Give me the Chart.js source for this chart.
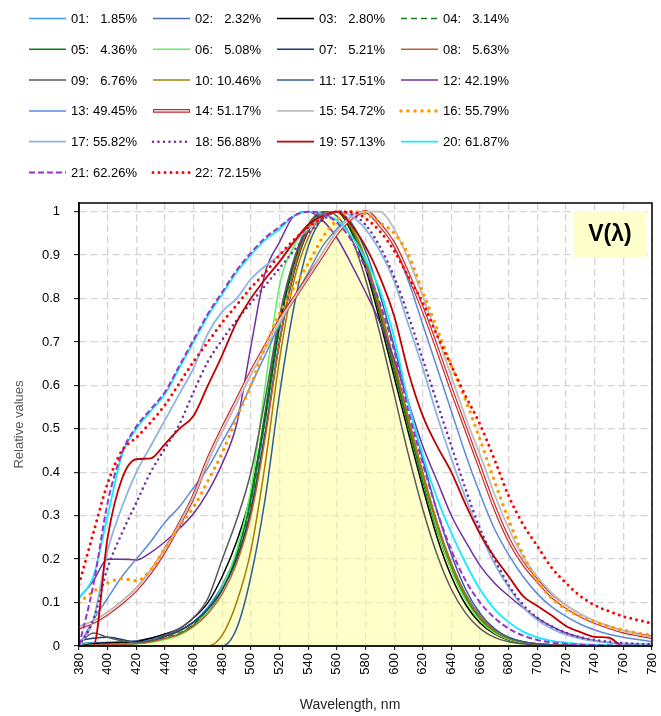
<!DOCTYPE html>
<html>
<head>
<meta charset="utf-8">
<script src="https://cdn.jsdelivr.net/npm/chart.js"></script>
<style>
  body { margin: 0; background: #fff; }
  canvas { display: block; }
</style>
</head>
<body>
<canvas id="myChart" width="661" height="716"></canvas>
<script>
// wavelength grid, nm
const wl = [380,390,400,410,420,430,440,450,460,470,480,490,500,510,520,530,540,550,560,570,
  580,590,600,610,620,630,640,650,660,670,680,690,700,710,720,730,740,750,760,770,780];
const yTicks = [0,0.1,0.2,0.3,0.4,0.5,0.6,0.7,0.8,0.9,1];

// V(lambda) photopic curve (yellow area)
const vLambda = [0.0000,0.0001,0.0004,0.0012,0.0040,0.0116,0.0230,0.0380,0.0600,0.0910,
  0.1390,0.2080,0.3230,0.5030,0.7100,0.8620,0.9540,0.9950,0.9950,0.9520,
  0.8700,0.7570,0.6310,0.5030,0.3810,0.2650,0.1750,0.1070,0.0610,0.0320,
  0.0170,0.0082,0.0041,0.0021,0.0010,0.0005,0.0002,0.0001,0.0001,0,0];

const codes = ['01','02','03','04','05','06','07','08','09','10','11',
  '12','13','14','15','16','17','18','19','20','21','22'];
const pcts = ['1.85%','2.32%','2.80%','3.14%','4.36%','5.08%','5.21%','5.63%','6.76%','10.46%','17.51%',
  '42.19%','49.45%','51.17%','54.72%','55.79%','55.82%','56.88%','57.13%','61.87%','62.26%','72.15%'];

const s01 = [0.005,0.008,0.008,0.008,0.010,0.015,0.025,0.035,0.055,0.090,
  0.140,0.215,0.330,0.520,0.730,0.880,0.960,0.995,1.000,0.965,
  0.890,0.780,0.650,0.520,0.395,0.280,0.190,0.120,0.070,0.038,
  0.020,0.010,0.005,0.003,0.002,0.001,0.001,0,0,0,0];
const s02 = [0,0.005,0.008,0.010,0.012,0.018,0.025,0.035,0.055,0.085,
  0.135,0.200,0.315,0.490,0.700,0.860,0.955,0.995,1.000,0.960,
  0.880,0.765,0.640,0.510,0.385,0.270,0.180,0.110,0.064,0.034,
  0.018,0.009,0.005,0.003,0.002,0.001,0,0,0,0,0];
const s03 = [0,0.005,0.007,0.008,0.010,0.018,0.028,0.040,0.065,0.100,
  0.160,0.240,0.350,0.530,0.740,0.880,0.960,0.995,1.000,0.955,
  0.870,0.750,0.620,0.490,0.365,0.250,0.160,0.095,0.053,0.028,
  0.014,0.007,0.003,0.002,0.001,0,0,0,0,0,0];
const s04 = [0,0.003,0.005,0.006,0.008,0.012,0.020,0.030,0.050,0.085,
  0.135,0.210,0.330,0.520,0.730,0.875,0.960,0.995,1.000,0.965,
  0.885,0.770,0.640,0.510,0.385,0.270,0.180,0.110,0.063,0.033,
  0.017,0.008,0.004,0.002,0.001,0,0,0,0,0,0];
const s05 = [0,0.002,0.004,0.005,0.006,0.010,0.017,0.028,0.048,0.080,
  0.130,0.210,0.340,0.540,0.750,0.885,0.965,0.998,1.000,0.960,
  0.880,0.765,0.635,0.505,0.380,0.265,0.175,0.107,0.060,0.031,
  0.016,0.008,0.004,0.002,0.001,0,0,0,0,0,0];
const s06 = [0,0.002,0.003,0.004,0.005,0.008,0.015,0.025,0.045,0.080,
  0.135,0.220,0.360,0.600,0.830,0.920,0.965,0.995,1.000,0.970,
  0.895,0.785,0.655,0.520,0.390,0.270,0.175,0.105,0.058,0.030,
  0.015,0.007,0.003,0.002,0.001,0,0,0,0,0,0];
const s07 = [0.012,0.018,0.020,0.015,0.008,0.012,0.022,0.035,0.055,0.085,
  0.130,0.200,0.310,0.490,0.700,0.860,0.955,0.995,1.000,0.965,
  0.885,0.775,0.650,0.520,0.395,0.280,0.185,0.115,0.066,0.035,
  0.018,0.009,0.005,0.002,0.001,0,0,0,0,0,0];
const s08 = [0,0.002,0.003,0.004,0.006,0.010,0.017,0.027,0.045,0.075,
  0.120,0.190,0.300,0.480,0.700,0.865,0.960,0.995,1.000,0.965,
  0.890,0.780,0.655,0.525,0.400,0.285,0.190,0.118,0.068,0.036,
  0.019,0.010,0.005,0.003,0.002,0.001,0,0,0,0,0];
const s09 = [0.005,0.030,0.020,0.012,0.008,0.012,0.025,0.040,0.065,0.110,
  0.200,0.290,0.400,0.570,0.760,0.890,0.970,1.000,0.990,0.940,
  0.845,0.720,0.580,0.440,0.315,0.210,0.130,0.075,0.040,0.020,
  0.010,0.005,0.002,0.001,0,0,0,0,0,0,0];
const s10 = [0,0,0,0,0,0,0,0,0,0,
  0.025,0.100,0.220,0.420,0.660,0.840,0.940,0.990,1.000,0.965,
  0.885,0.775,0.650,0.520,0.395,0.280,0.185,0.115,0.066,0.035,
  0.018,0.009,0.004,0.002,0.001,0,0,0,0,0,0];
const s11 = [0,0,0,0,0,0,0,0,0,0,
  0,0.040,0.160,0.340,0.580,0.780,0.920,0.985,1.000,0.975,
  0.910,0.810,0.690,0.560,0.430,0.310,0.210,0.130,0.075,0.040,
  0.020,0.010,0.005,0.002,0.001,0,0,0,0,0,0];
const s12 = [0.110,0.150,0.200,0.200,0.198,0.215,0.240,0.270,0.305,0.355,
  0.420,0.510,0.690,0.860,0.930,0.990,1.000,0.980,0.940,0.880,
  0.815,0.745,0.660,0.560,0.460,0.380,0.300,0.240,0.185,0.145,
  0.115,0.088,0.064,0.045,0.030,0.020,0.012,0.008,0.005,0.003,0.002];
const s13 = [0,0.060,0.110,0.160,0.200,0.240,0.285,0.320,0.365,0.410,
  0.470,0.530,0.600,0.670,0.740,0.800,0.860,0.920,0.960,0.990,
  1.000,0.975,0.920,0.840,0.740,0.640,0.540,0.440,0.350,0.270,
  0.210,0.160,0.120,0.090,0.068,0.050,0.037,0.027,0.020,0.015,0.010];
const s14 = [0.042,0.055,0.075,0.100,0.130,0.170,0.220,0.280,0.345,0.430,
  0.500,0.565,0.630,0.690,0.750,0.800,0.850,0.900,0.950,0.985,
  1.000,0.970,0.925,0.855,0.775,0.685,0.590,0.500,0.410,0.320,
  0.245,0.190,0.150,0.115,0.090,0.070,0.055,0.043,0.033,0.026,0.020];
const s15 = [0.045,0.058,0.078,0.103,0.133,0.173,0.223,0.280,0.345,0.425,
  0.495,0.560,0.625,0.685,0.745,0.800,0.850,0.905,0.955,0.990,
  1.000,1.000,0.960,0.890,0.805,0.715,0.620,0.525,0.440,0.350,
  0.270,0.205,0.160,0.122,0.095,0.074,0.058,0.045,0.035,0.027,0.021];
const s16 = [0.100,0.125,0.145,0.155,0.150,0.175,0.225,0.275,0.320,0.380,
  0.445,0.525,0.600,0.690,0.765,0.825,0.880,0.940,0.980,1.000,
  0.995,0.975,0.950,0.900,0.815,0.730,0.645,0.565,0.475,0.380,
  0.290,0.210,0.150,0.110,0.085,0.068,0.056,0.045,0.037,0.030,0.025];
const s17 = [0,0.060,0.220,0.320,0.400,0.460,0.520,0.580,0.640,0.720,
  0.770,0.800,0.845,0.875,0.900,0.930,0.960,0.990,1.000,0.990,
  0.960,0.910,0.840,0.740,0.640,0.530,0.430,0.340,0.260,0.190,
  0.135,0.090,0.060,0.040,0.026,0.017,0.011,0.008,0.006,0.005,0.004];
const s18 = [0,0.060,0.180,0.260,0.330,0.400,0.455,0.510,0.585,0.655,
  0.705,0.750,0.790,0.830,0.870,0.910,0.950,0.980,1.000,0.995,
  0.970,0.920,0.850,0.760,0.660,0.560,0.460,0.360,0.270,0.200,
  0.140,0.095,0.065,0.045,0.030,0.020,0.014,0.010,0.007,0.005,0.004];
const s19 = [0,0,0.250,0.385,0.430,0.432,0.465,0.500,0.530,0.600,
  0.670,0.745,0.800,0.845,0.885,0.930,0.970,0.990,1.000,0.970,
  0.920,0.850,0.760,0.630,0.530,0.460,0.400,0.325,0.258,0.205,
  0.160,0.115,0.092,0.070,0.046,0.032,0.021,0.019,0,0,0];
const s20 = [0.110,0.160,0.300,0.440,0.500,0.540,0.580,0.640,0.700,0.760,
  0.810,0.860,0.900,0.935,0.960,0.990,1.000,0.995,0.980,0.945,
  0.890,0.820,0.710,0.560,0.440,0.340,0.260,0.190,0.130,0.085,
  0.055,0.033,0.020,0.012,0.008,0.005,0.003,0.002,0.001,0.001,0];
const s21 = [0,0.140,0.330,0.445,0.505,0.545,0.585,0.645,0.705,0.765,
  0.815,0.865,0.905,0.940,0.965,0.990,1.000,0.995,0.975,0.935,
  0.870,0.790,0.680,0.540,0.420,0.310,0.220,0.150,0.100,0.065,
  0.040,0.024,0.014,0.008,0.005,0.003,0.002,0.001,0.001,0,0];
const s22 = [0.142,0.260,0.375,0.450,0.480,0.515,0.555,0.605,0.655,0.700,
  0.745,0.785,0.825,0.860,0.900,0.935,0.965,0.985,1.000,1.000,
  0.985,0.955,0.910,0.850,0.790,0.715,0.645,0.575,0.510,0.430,
  0.345,0.280,0.230,0.180,0.145,0.115,0.094,0.080,0.068,0.060,0.052];

const series = [s01,s02,s03,s04,s05,s06,s07,s08,s09,s10,s11,
  s12,s13,s14,s15,s16,s17,s18,s19,s20,s21,s22];

// line looks
const dot = (c, w, gap) => ({color: c, width: w, dash: [0, gap], cap: 'round'});
const styles = [
  {color: '#3C9EFF', width: 1.5},
  {color: '#4A6DB5', width: 1.5},
  {color: '#000000', width: 1.5},
  {color: '#1E7B1E', width: 1.5, dash: [6, 4]},
  {color: '#0A800A', width: 1.5},
  {color: '#5CF25C', width: 1.5},
  {color: '#1F3A6E', width: 1.5},
  {color: '#C0602B', width: 1.5},
  {color: '#595959', width: 1.5},
  {color: '#A67C00', width: 1.5},
  {color: '#2F5F98', width: 1.5},
  {color: '#7030A0', width: 1.5},
  {color: '#5A8AD8', width: 1.5},
  {color: '#D02020', width: 3.6, double: true},
  {color: '#BFBFBF', width: 1.8},
  dot('#FF9900', 3.5, 7),
  {color: '#8DB4E2', width: 1.8},
  dot('#7030A0', 2.6, 5.5),
  {color: '#C00000', width: 1.8},
  {color: '#11EEFF', width: 1.8},
  {color: '#9933CC', width: 2, dash: [6, 3]},
  dot('#FF0000', 3, 6)
];

const FONT = '"Liberation Sans", Arial, sans-serif';
Chart.defaults.font.family = FONT;

const toPts = vals => wl.map((x, j) => ({x: x, y: vals[j]}));

let datasets = series.map((vals, i) => ({
  label: codes[i],
  data: toPts(vals),
  borderColor: styles[i].color,
  borderWidth: styles[i].width,
  borderDash: styles[i].dash || [],
  borderCapStyle: styles[i].cap || 'butt',
  fill: false,
  order: 30 - i
}));
// white core of the double line (series 14)
datasets.push({
  label: '14core', data: toPts(s14), borderColor: '#FFFFFF', borderWidth: 1.3,
  fill: false, order: 30 - 13 - 0.5
});
// V(lambda) area
datasets.push({
  label: 'V', data: toPts(vLambda), borderColor: 'rgba(0,0,0,0)', borderWidth: 0,
  backgroundColor: 'rgba(255,255,150,0.5)', fill: 'origin', order: 100
});

// legend grid, frame, V(λ) box, x title
const extras = {
  id: 'extras',
  afterDraw(chart) {
    const ctx = chart.ctx, a = chart.chartArea;
    ctx.save();
    ctx.strokeStyle = '#000';
    ctx.lineWidth = 1.5;
    ctx.strokeRect(a.left, a.top, a.right - a.left, a.bottom - a.top);

    // V(λ) label
    ctx.fillStyle = '#FFFFCC';
    ctx.fillRect(a.right - 79, a.top + 8, 73, 47);
    ctx.fillStyle = '#000';
    ctx.font = 'bold 23px ' + FONT;
    ctx.textAlign = 'center';
    ctx.textBaseline = 'middle';
    ctx.fillText('V(λ)', a.right - 42, a.top + 32);

    // x axis title
    ctx.font = '14px ' + FONT;
    ctx.fillStyle = '#262626';
    ctx.fillText('Wavelength, nm', 350, 705);

    // legend
    const colX = [29, 153, 277, 401];
    ctx.font = '13px ' + FONT;
    series.forEach((vals, i) => {
      const st = styles[i];
      const x0 = colX[i % 4];
      const y = 18.5 + Math.floor(i / 4) * 30.8;
      ctx.beginPath();
      ctx.setLineDash(st.dash || []);
      ctx.lineCap = st.cap || 'butt';
      ctx.strokeStyle = st.color;
      ctx.lineWidth = st.width;
      ctx.moveTo(x0, y);
      ctx.lineTo(x0 + 37, y);
      ctx.stroke();
      if (st.double) {
        ctx.beginPath();
        ctx.strokeStyle = '#fff';
        ctx.lineWidth = 1.3;
        ctx.moveTo(x0 + 1, y);
        ctx.lineTo(x0 + 36, y);
        ctx.stroke();
      }
      ctx.setLineDash([]);
      ctx.fillStyle = '#000';
      ctx.textAlign = 'left';
      ctx.fillText(codes[i] + ':', x0 + 42, y + 1);
      ctx.textAlign = 'right';
      ctx.fillText(pcts[i], x0 + 108, y + 1);
    });
    ctx.restore();
  }
};

new Chart(document.getElementById('myChart'), {
  type: 'line',
  data: {datasets: datasets},
  options: {
    responsive: false,
    animation: false,
    layout: {padding: {top: 203, right: 9, left: 0, bottom: 0}},
    elements: {point: {radius: 0}, line: {cubicInterpolationMode: 'monotone'}},
    plugins: {legend: {display: false}, tooltip: {enabled: false}},
    scales: {
      x: {
        type: 'linear', min: 380, max: 780,
        ticks: {stepSize: 20, minRotation: 90, maxRotation: 90, color: '#000', font: {size: 13}, padding: 3},
        grid: {color: '#D4D4D4', lineWidth: 1.3, tickLength: 4, tickColor: '#000', tickWidth: 1},
        border: {color: '#000', width: 1.5, dash: [7, 4]},
        // fixed axis height, no extra side room for the rotated end labels
        afterFit: s => { s.height = 70; s.paddingLeft = 0; s.paddingRight = 0; }
      },
      y: {
        min: 0, max: 1.02,
        ticks: {color: '#000', font: {size: 13}, padding: 14,
          callback: v => +v.toFixed(1)},
        // ticks stop at 1, the frame top sits a little above
        afterBuildTicks: s => { s.ticks = yTicks.map(v => ({value: v})); },
        grid: {color: '#D4D4D4', lineWidth: 1.3, tickLength: 5, tickColor: '#000', tickWidth: 1},
        border: {color: '#000', width: 1.5, dash: [7, 4]},
        title: {display: true, text: 'Relative values', color: '#595959', font: {size: 13}, padding: {top: 12, bottom: 0}},
        afterFit: s => { s.width = 79; s.paddingTop = 0; s.paddingBottom = 0; }
      }
    }
  },
  plugins: [extras]
});
</script>
</body>
</html>
